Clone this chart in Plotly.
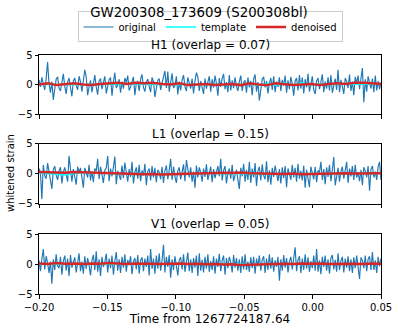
import numpy as np
import plotly.graph_objects as go
from plotly.subplots import make_subplots


detectors = ["H1", "L1", "V1"]
overlaps = ["0.07", "0.15", "0.05"]

h1_original = [
    0.8, -0.4, 1.2, 0.3, -0.9, 1.0, 3.8, 0.2, -1.4, 0.5,
    -2.6, -0.8, 0.9, 1.3, -0.6, -1.1, 0.7, 1.8, -0.3, -1.6,
    0.4, 1.1, -0.5, -2.0, 0.6, 1.1, -0.2, -0.9, 1.4, 0.5,
    -1.2, 0.3, 2.5, 1.3, -1.8, -0.4, 0.7, -1.3, 0.2, 1.6,
    -0.4, -1.7, 0.6, 1.0, -0.8, 0.2, 1.4, -1.5, -0.3, 0.8,
    1.2, -1.9, 0.4, 2.0, -0.6, -0.1, 0.9, -1.4, 0.5, -0.7,
    1.1, 0.3, 1.5, -1.0, -0.4, 0.7, 1.3, -1.8, 0.2, 0.6,
    -1.1, 0.9, 1.7, -0.5, -1.2, 0.4, 0.9, -0.3, -1.3, 1.2,
    0.5, -2.1, -0.4, 0.7, 1.0, -0.9, 0.3, 1.1, 2.3, -0.6,
    2.2, -1.2, 0.4, 1.9, -0.6, -0.2, 1.4, -1.7, 0.5, -1.0,
    0.8, 1.6, -0.4, -1.1, 1.2, 0.3, -0.7, 1.0, -1.5, 0.6,
    2.0, 1.3, -1.1, 0.6, -0.3, -1.6, 1.0, -0.7, 0.4, 1.4,
    -1.2, 0.9, -0.5, 1.5, 0.2, -1.9, 1.1, -0.4, 1.0, 1.8,
    -0.8, 0.4, -1.3, 1.6, -1.0, 0.7, -0.6, 1.2, -0.3, -1.1,
    0.5, 1.5, -1.1, 0.3, 0.7, -1.4, 1.2, -0.5, 0.6, -1.8,
    1.0, 1.7, -1.2, 0.4, -2.7, -0.5, 0.9, 1.3, -0.5, 0.6,
    -1.5, 0.2, 1.1, -0.9, 1.4, -1.3, 0.5, -0.4, 1.2, -1.1,
    0.8, -0.2, 1.5, -1.4, 0.7, -0.8, 1.3, 0.1, -1.9, 0.6,
    1.1, -1.0, 1.6, -0.7, 1.2, -1.5, 0.9, -0.5, 1.8, -1.2,
    0.4, 1.4, -0.9, -1.6, 0.6, 1.1, -0.8, 0.3, 1.7, -1.3,
    0.5, -0.7, 1.2, -1.0, 1.6, -1.4, 0.2, 1.0, -0.9, 2.5,
    -1.3, 0.8, -0.3, -1.6, 1.1, 0.5, -0.6, 1.7, -1.1, 0.5,
    -1.8, 1.3, 0.2, 1.5, -0.8, 0.9, 2.8, -3.0, 0.9, -1.2,
    1.4, 0.3, -0.7, 1.0, -1.3, 1.5, -1.0, 0.6, -0.8, 0.4,
]

l1_original = [
    0.9, 0.2, -4.2, 1.5, -0.3, -0.8, 1.8, 0.4, -1.2, -2.5,
    0.7, 1.3, -0.2, -1.0, 0.5, 1.1, -1.6, 0.3, 1.1, -0.4,
    -1.3, 3.0, 0.6, -1.3, 0.8, -0.5, -1.8, 1.2, 0.3, 1.0,
    -0.6, -2.3, 1.0, 0.2, -0.6, 1.5, -1.1, 0.4, -1.4, 0.9,
    0.5, 2.5, -0.9, 1.2, -0.3, -1.5, 0.6, 1.0, 3.0, -1.2,
    0.9, -0.4, 1.1, 2.9, -1.7, 0.5, -0.2, -1.0, 1.4, -0.7,
    1.9, 0.4, -1.3, 0.8, -0.5, 2.0, -1.6, 0.2, 1.1, -0.8,
    1.5, -1.2, 0.6, -0.3, 1.7, -1.9, 0.4, 0.9, -1.1, 1.3,
    -0.6, 1.0, -1.4, 0.7, 0.3, -0.9, 1.2, -1.5, 0.5, 1.4,
    -0.9, 0.6, 2.5, -1.0, 1.2, -0.4, -1.5, 0.5, 1.1, -0.9,
    0.3, 1.6, -1.2, 2.3, 0.8, -0.6, 1.1, -1.3, 0.4, -2.3,
    1.4, -0.6, 1.1, 0.2, -1.3, 0.9, -0.5, 1.6, -1.0, 0.4,
    1.2, -1.4, 0.8, -0.7, 0.5, 1.3, -0.4, 2.5, -1.1, 0.6,
    1.3, -1.6, 0.2, 0.9, -0.8, 1.5, -1.2, -0.3, 0.7, -1.0,
    -2.5, 1.0, -0.4, 1.7, -1.3, 0.7, -1.0, 2.0, -1.5, 0.9,
    -0.6, 1.8, -2.0, 0.5, 1.2, -1.1, 1.6, -0.3, -0.9, 2.1,
    -1.4, 0.6, -1.8, 1.0, -0.5, 1.4, 0.3, -1.2, 0.8, -1.6,
    1.1, -0.7, 1.3, -2.2, 0.9, -0.2, -1.0, 1.5, -0.6, 1.0,
    -1.3, 1.7, -0.8, 0.5, -1.1, 1.4, -2.3, 0.7, -0.5, -2.2,
    1.2, 0.3, -0.9, 1.2, -1.4, 0.6, 0.2, 2.0, -1.0, 0.8,
    -1.7, 1.1, -0.5, 1.5, -1.2, 0.7, 2.8, -1.9, -0.5, 1.0,
    -1.3, 0.4, 1.2, -0.8, 0.6, 2.0, -1.5, 0.9, -0.4, 1.3,
    -1.0, 1.5, -0.6, 0.3, -1.2, 0.7, -1.9, 1.1, 0.5, -0.6,
    1.3, -2.8, 0.8, 1.3, -0.6, 0.4, -1.0, 1.2, 2.0, -1.0,
]

v1_original = [
    0.6, -1.2, 0.8, 2.5, -0.9, 1.3, 0.2, -1.5, 0.4, -3.3,
    0.8, -1.0, 1.6, -0.3, -0.7, 1.2, -1.8, 0.5, 1.4, -1.1,
    0.9, -2.0, 1.5, -0.6, 0.3, 1.1, -1.4, 0.7, 1.8, -1.2,
    0.4, -1.6, 1.3, -0.8, 1.0, -0.2, -1.9, 0.6, 1.5, -1.0,
    2.1, -1.3, 0.8, -2.0, 1.2, -0.5, 0.3, 1.7, -1.4, 0.9,
    -0.7, 1.4, -1.8, 0.5, 2.0, -1.1, 0.8, -1.5, 1.2, -0.6,
    1.6, -1.3, 0.7, -0.2, 1.3, -1.7, 0.4, 1.0, -0.9, 1.5,
    -1.6, 0.6, 1.1, -1.2, 0.9, -0.5, 1.4, -1.9, 2.5, -0.8,
    0.9, -1.6, 1.4, -0.8, 1.8, -1.1, 0.6, 3.2, -1.4, 1.2,
    -0.5, 1.5, -2.3, 0.8, -1.0, 1.3, -0.4, -1.9, 0.7, 1.1,
    -0.9, 1.6, -1.3, 0.5, 1.9, -1.2, 0.8, -1.5, 1.0, -0.6,
    1.4, -2.0, 1.8, -1.1, 0.7, -1.4, 1.2, -0.8, 1.6, -1.3,
    0.5, -1.0, 1.3, -1.6, 0.9, -0.5, 1.7, -1.2, 0.6, 1.4,
    -1.8, 1.0, -0.7, 1.2, 0.3, -1.4, 1.5, -0.6, 1.0, -1.1,
    0.8, -1.5, 1.3, -0.9, 1.6, -1.0, 0.4, -1.3, 1.1, -0.7,
    1.2, -1.6, 0.9, -0.4, 1.4, -1.1, 0.7, 1.3, -1.5, 0.9,
    -1.0, 1.6, -0.8, 1.1, -1.3, 0.6, -0.5, 1.2, -2.8, 0.8,
    -1.1, 1.5, -0.6, 1.0, -1.4, 0.4, 1.2, -0.9, 0.6, 2.8,
    -1.2, 0.7, 1.3, -1.5, 0.9, -1.0, 1.6, -0.8, 1.1, -1.3,
    0.5, -0.7, 1.4, -1.1, 2.5, -1.3, 0.6, -1.7, 1.2, -0.5,
    1.4, -1.1, 0.8, -1.6, 1.0, 1.5, -0.9, 0.7, -1.3, 1.8,
    -1.0, 0.5, 1.2, -1.4, 0.9, -0.6, 1.3, -1.2, 0.8, -1.5,
    1.1, -0.7, 1.4, -1.2, -2.5, 1.1, 0.6, -0.7, 1.4, -1.2,
    0.8, 1.3, -1.0, 2.0, -1.0, 0.6, -1.5, 1.2, -0.4, 0.9,
]

h1_template = [
    0.0, 0.05, -0.05, 0.05, 0.0, -0.05, 0.05, 0.0, 0.1, 0.0,
    0.1, 0.05, 0.1, 0.0, 0.05, -0.05, 0.0, 0.05, -0.05, 0.0,
    0.05, -0.1, 0.1, -0.1, 0.15, -0.15, 0.2, -0.1, 0.3, -0.2,
    0.35, -0.1, 0.1, 0.0, 0.05, 0.0, 0.1, 0.05, 0.0, 0.05,
]
l1_template = [
    0.2, 0.1, -0.1, -0.2, 0.1, 0.2, 0.15, 0.1, 0.05, 0.1,
    0.0, 0.05, 0.0, -0.05, -0.1, -0.05, 0.0, -0.1, 0.05, 0.15,
    0.1, 0.0, 0.05, 0.0, -0.05, 0.0, -0.1, -0.05, 0.0, -0.1,
    0.0, 0.05, -0.05, 0.1, 0.0, 0.15, 0.05, 0.2, 0.0, 0.1,
]
v1_template = [
    0.0, 0.05, 0.0, -0.05, 0.0, 0.05, 0.0, -0.05, 0.0, 0.05,
    0.0, 0.0, 0.05, 0.0, -0.05, 0.0, 0.05, 0.0, 0.0, -0.05,
    0.0, 0.05, -0.1, 0.05, -0.15, 0.0, -0.1, 0.05, -0.05, 0.1,
    -0.1, 0.05, 0.0, 0.05, 0.0, 0.0, 0.05, 0.0, 0.05, 0.0,
]

h1_denoised = [
    0.0, 0.2, -0.1, 0.1, 0.2, 0.0, -0.1, 0.1, 0.2, 0.3,
    0.1, 0.3, 0.2, 0.3, 0.1, 0.0, 0.2, -0.1, 0.0, 0.1,
    -0.1, 0.0, 0.1, -0.1, 0.2, 0.0, -0.1, 0.2, 0.1, -0.1,
    0.0, 0.1, -0.1, 0.1, 0.2, 0.1, 0.3, 0.3, 0.2, 0.1,
]
l1_denoised = [
    0.3, 0.25, 0.3, 0.2, 0.3, 0.25, 0.2, 0.15, 0.1, 0.15,
    0.05, 0.0, -0.05, 0.0, -0.1, -0.05, 0.0, -0.05, 0.05, 0.1,
    0.15, 0.2, 0.15, 0.25, 0.1, 0.05, 0.0, -0.05, 0.0, 0.05,
    -0.05, 0.0, 0.05, 0.0, 0.05, 0.1, 0.05, 0.1, 0.05, 0.1,
]
v1_denoised = [
    0.1, 0.0, 0.15, 0.05, 0.1, 0.0, 0.1, 0.05, 0.15, 0.1,
    0.0, 0.1, 0.05, 0.1, 0.0, 0.05, 0.1, 0.0, 0.05, -0.05,
    0.0, -0.1, -0.05, -0.15, -0.1, -0.05, 0.0, -0.05, 0.05, 0.0,
    0.1, 0.05, 0.1, 0.0, 0.05, 0.1, 0.05, 0.0, 0.1, 0.05,
]

originals = [h1_original, l1_original, v1_original]
templates = [h1_template, l1_template, v1_template]
denoised = [h1_denoised, l1_denoised, v1_denoised]

t_start = -0.2
t_end = 0.05


fig = make_subplots(rows=3, cols=1, shared_xaxes=True)

domains = [[0.753, 1.0], [0.377, 0.628], [0.0, 0.251]]

for k in range(3):

    t_orig = np.linspace(t_start, t_end, len(originals[k]))
    t_smooth = np.linspace(t_start, t_end, len(templates[k]))

    fig.add_trace(
        go.Scatter(
            x=t_orig, y=originals[k], mode="lines",
            line=dict(color="#1f77b4", width=1.15),
            name="original", showlegend=(k == 0)
        ),
        row=k + 1, col=1
    )

    fig.add_trace(
        go.Scatter(
            x=t_smooth, y=templates[k], mode="lines",
            line=dict(color="#00ffff", width=1.5),
            name="template", showlegend=(k == 0)
        ),
        row=k + 1, col=1
    )

    fig.add_trace(
        go.Scatter(
            x=t_smooth, y=denoised[k], mode="lines",
            line=dict(color="#d62728", width=2.5),
            name="denoised", showlegend=(k == 0)
        ),
        row=k + 1, col=1
    )

    fig.add_annotation(
        text=f"{detectors[k]} (overlap = {overlaps[k]})",
        xref="paper", yref="paper", x=0.5, y=domains[k][1],
        yshift=1, showarrow=False, yanchor="bottom",
        font=dict(size=12, color="black")
    )


axis_style = dict(
    showgrid=False, zeroline=False, showline=True, mirror=True,
    linecolor="black", linewidth=1, ticks="outside", ticklen=3.5,
    tickcolor="black", tickfont=dict(size=10, color="black"),
    automargin=False
)

for k in range(3):
    fig.update_yaxes(
        range=[-5, 5], tickvals=[-5, 0, 5], ticktext=["−5", "0", "5"],
        domain=domains[k], **axis_style, row=k + 1, col=1
    )
    fig.update_xaxes(
        range=[t_start, t_end], tickvals=[-0.2, -0.15, -0.1, -0.05, 0.0, 0.05],
        ticktext=["−0.20", "−0.15", "−0.10", "−0.05", "0.00", "0.05"],
        showticklabels=(k == 2), **axis_style, row=k + 1, col=1
    )

fig.update_xaxes(
    title=dict(text="Time from 1267724187.64", font=dict(size=12, color="black"), standoff=2),
    row=3, col=1
)

fig.add_annotation(
    text="whitened strain", xref="paper", yref="paper",
    x=-0.085, y=0.506, textangle=-90, showarrow=False,
    xanchor="center", yanchor="middle",
    font=dict(size=10, color="black")
)

fig.update_layout(
    width=398, height=329,
    margin=dict(l=39, r=17, t=55, b=35),
    paper_bgcolor="white", plot_bgcolor="white",
    font=dict(family="DejaVu Sans", color="black"),
    title=dict(
        text="GW200308_173609 (S200308bl)", x=0.5, xanchor="center",
        y=0.962, yanchor="middle", font=dict(size=13.3, color="black")
    ),
    legend=dict(
        orientation="h", x=0.5, xanchor="center",
        yref="container", y=0.918, yanchor="middle",
        bordercolor="#cccccc", borderwidth=1, bgcolor="white",
        font=dict(size=10, color="black"), itemwidth=30,
        tracegroupgap=0
    ),
    showlegend=True
)

# page body has a default 8px margin; drop it so the figure sits at 0,0
fig.write_html(
    "out.html",
    config={"displayModeBar": False},
    post_script="document.body.style.margin='0';"
)
